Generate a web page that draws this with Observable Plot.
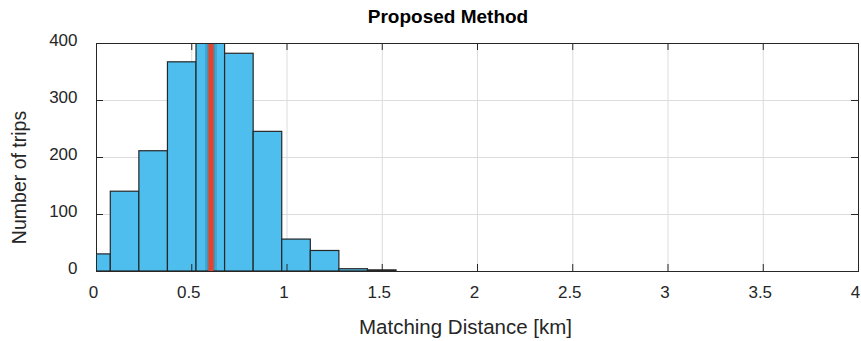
<!DOCTYPE html>
<html>
<head>
<meta charset="utf-8">
<script src="https://cdn.jsdelivr.net/npm/d3@7"></script>
<script src="https://cdn.jsdelivr.net/npm/@observablehq/plot@0.6"></script>
<style>
  html, body { margin: 0; padding: 0; background: #fff; }
  #wrap { position: relative; width: 861px; height: 341px; }
  #title { position: absolute; left: 448px; top: 7px; transform: translateX(-50%); white-space: nowrap;
           font: bold 19px/19px "Liberation Sans", Arial, sans-serif; color: #000; }
  #chart { position: absolute; left: 0; top: 30px; }
</style>
</head>
<body>
<div id="wrap">
  <div id="title">Proposed Method</div>
  <div id="chart"></div>
</div>
<script>
// Histogram bins (km) and counts
const binStart = [-0.075, 0.075, 0.225, 0.375, 0.525, 0.675, 0.825, 0.975, 1.125, 1.275, 1.425,
  1.575, 1.725, 1.875, 2.025, 2.175, 2.325, 2.475, 2.625, 2.775, 2.925, 3.075, 3.225, 3.375, 3.525, 3.675, 3.825];
const binEnd = [0.075, 0.225, 0.375, 0.525, 0.675, 0.825, 0.975, 1.125, 1.275, 1.425, 1.575,
  1.725, 1.875, 2.025, 2.175, 2.325, 2.475, 2.625, 2.775, 2.925, 3.075, 3.225, 3.375, 3.525, 3.675, 3.825, 3.975];
const counts = [30, 140, 211, 367, 430, 382, 245, 56, 36, 4, 2,
  0, 0, 0, 0, 0, 0, 0, 0, 0, 0, 0, 0, 0, 0, 0, 0];
const meanDistance = [0.601];
const xTicks = [0, 0.5, 1, 1.5, 2, 2.5, 3, 3.5, 4];
const xTickLabels = ["0", "0.5", "1", "1.5", "2", "2.5", "3", "3.5", "4"];
const yTicks = [0, 100, 200, 300, 400];
const xLabel = ["Matching Distance [km]"];
const yLabel = ["Number of trips"];

const bins = binStart.map((s, i) => ({x1: s, x2: binEnd[i], count: counts[i]}));

const W = 861, H = 311, mT = 13, mB = 70, mL = 96, mR = 3;
const axisColor = "#262626";
const tickLen = 7;
const font = "'Liberation Sans', Arial, sans-serif";

const chart = Plot.plot({
  width: W, height: H,
  marginTop: mT, marginBottom: mB, marginLeft: mL, marginRight: mR,
  style: {fontFamily: font, fontSize: "17px", color: axisColor, background: "#fff"},
  x: {domain: [0, 4]},
  y: {domain: [0, 400]},
  marks: [
    // grid
    Plot.ruleX(xTicks, {stroke: "#dcdcdc", strokeWidth: 1}),
    Plot.ruleY(yTicks, {stroke: "#dcdcdc", strokeWidth: 1}),
    // histogram bars
    Plot.rectY(bins, {x1: "x1", x2: "x2", y: "count", fill: "#4dbeee", stroke: "#262626", strokeWidth: 1.2, clip: true}),
    // shadow for mean line
    Plot.ruleX(meanDistance, {stroke: "#000", strokeOpacity: 0.12, strokeWidth: 12, clip: true}),
    Plot.ruleX(meanDistance, {stroke: "#000", strokeOpacity: 0.10, strokeWidth: 8, clip: true}),
    // mean line
    Plot.ruleX(meanDistance, {stroke: "#e8432a", strokeWidth: 5, clip: true}),
    // frame
    Plot.frame({stroke: axisColor, strokeWidth: 1}),
    // inward ticks
    Plot.tickX(xTicks, {x: d => d, stroke: axisColor, insetTop: H - mT - mB - tickLen}),
    Plot.tickX(xTicks, {x: d => d, stroke: axisColor, insetBottom: H - mT - mB - tickLen}),
    Plot.tickY(yTicks, {y: d => d, stroke: axisColor, insetRight: W - mL - mR - tickLen}),
    Plot.tickY(yTicks, {y: d => d, stroke: axisColor, insetLeft: W - mL - mR - tickLen}),
    // axes (labels drawn separately)
    Plot.axisX(xTicks, {tickSize: 0, tickPadding: 14, dx: -3, tickFormat: (d, i) => xTickLabels[i], label: null, fill: axisColor, fontSize: 17}),
    Plot.axisY(yTicks, {tickSize: 0, tickPadding: 19, dy: -3, label: null, fill: axisColor, fontSize: 17}),
    // axis labels
    Plot.text(xLabel, {text: d => d, frameAnchor: "bottom", textAnchor: "middle", lineAnchor: "middle", dy: 56, dx: -12, fontSize: 20.5, fill: axisColor}),
    Plot.text(yLabel, {text: d => d, frameAnchor: "left", textAnchor: "middle", lineAnchor: "middle", rotate: -90, dx: -77, dy: 20, fontSize: 19.5, fill: axisColor})
  ]
});
document.getElementById("chart").appendChild(chart);
</script>
</body>
</html>
